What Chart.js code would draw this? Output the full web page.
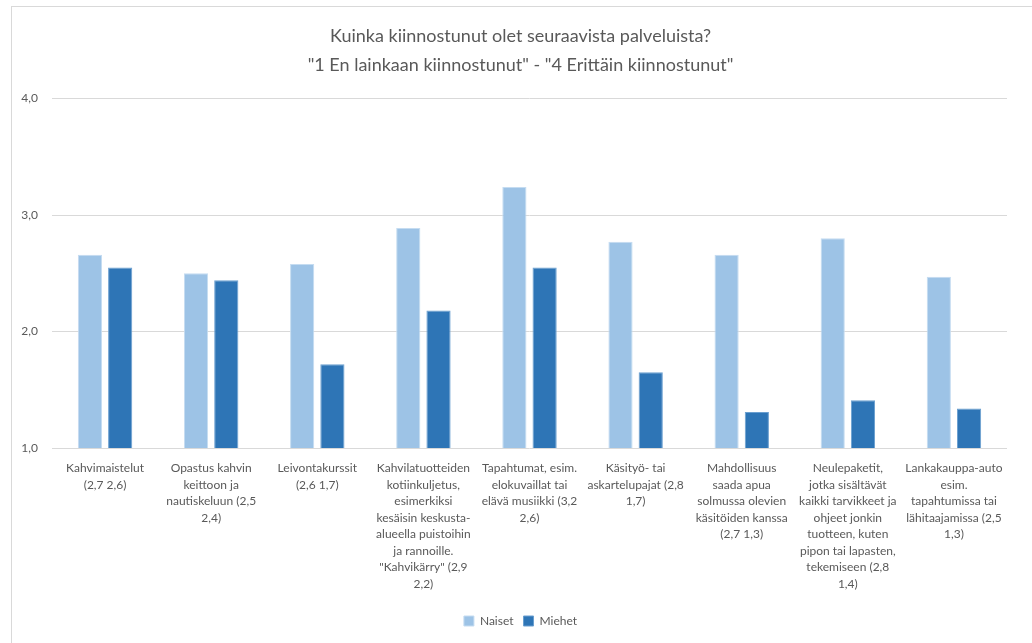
<!DOCTYPE html>
<html lang="fi">
<head>
  <meta charset="UTF-8">
  <title>Kuinka kiinnostunut olet seuraavista palveluista?</title>
  <style>
    html, body {
      margin: 0;
      padding: 0;
      background: #fff;
      overflow: hidden;
    }
    .frame {
      position: absolute;
      left: 11px;
      top: 6px;
      width: 1040px;
      height: 660px;
      border-left: 1px solid #d9d9d9;
      border-top: 1px solid #d9d9d9;
    }
    .wrap {
      position: absolute;
      left: 0;
      top: 0;
      width: 1032px;
      height: 643px;
    }
  </style>
</head>
<body>
  <div class="frame"></div>
  <div class="wrap"><canvas id="chart" width="1032" height="643"></canvas></div>

  <script src="https://cdn.jsdelivr.net/npm/chart.js"></script>
  <script>
    const titleLines = [
      'Kuinka kiinnostunut olet seuraavista palveluista?',
      '"1 En lainkaan kiinnostunut" - "4 Erittäin kiinnostunut"'
    ];

    // category labels, already split into lines like the original
    const categories = [
      ['Kahvimaistelut', '(2,7 2,6)'],
      ['Opastus kahvin', 'keittoon ja', 'nautiskeluun (2,5', '2,4)'],
      ['Leivontakurssit', '(2,6 1,7)'],
      ['Kahvilatuotteiden', 'kotiinkuljetus,', 'esimerkiksi', 'kesäisin keskusta-', 'alueella puistoihin', 'ja rannoille.', '"Kahvikärry" (2,9', '2,2)'],
      ['Tapahtumat, esim.', 'elokuvaillat tai', 'elävä musiikki (3,2', '2,6)'],
      ['Käsityö- tai', 'askartelupajat (2,8', '1,7)'],
      ['Mahdollisuus', 'saada apua', 'solmussa olevien', 'käsitöiden kanssa', '(2,7 1,3)'],
      ['Neulepaketit,', 'jotka sisältävät', 'kaikki tarvikkeet ja', 'ohjeet jonkin', 'tuotteen, kuten', 'pipon tai lapasten,', 'tekemiseen (2,8', '1,4)'],
      ['Lankakauppa-auto', 'esim.', 'tapahtumissa tai', 'lähitaajamissa (2,5', '1,3)']
    ];

    const naiset = [2.66, 2.50, 2.58, 2.89, 3.24, 2.77, 2.66, 2.80, 2.47];
    const miehet = [2.55, 2.44, 1.72, 2.18, 2.55, 1.65, 1.31, 1.41, 1.34];

    const yTicks = [1, 2, 3, 4];

    const textColor = '#595959';
    const fontFamily = "Lato, 'Open Sans', sans-serif";

    new Chart(document.getElementById('chart'), {
      type: 'bar',
      data: {
        labels: categories,
        datasets: [
          {
            label: 'Naiset',
            data: naiset,
            backgroundColor: '#9dc3e6',
            borderColor: '#c5dcf1',
            borderWidth: 1,
            borderSkipped: 'bottom',
            categoryPercentage: 0.57,
            barPercentage: 0.8
          },
          {
            label: 'Miehet',
            data: miehet,
            backgroundColor: '#2e75b6',
            borderColor: '#6a9fd0',
            borderWidth: 1,
            borderSkipped: 'bottom',
            categoryPercentage: 0.57,
            barPercentage: 0.8
          }
        ]
      },
      options: {
        responsive: false,
        animation: false,
        layout: { padding: { left: 14, right: 5, top: 8, bottom: 6 } },
        plugins: {
          title: {
            display: true,
            text: titleLines,
            color: textColor,
            font: { family: fontFamily, size: 18, weight: 'normal', lineHeight: 1.6 },
            padding: { top: 14, bottom: 19 }
          },
          legend: {
            position: 'bottom',
            labels: {
              color: textColor,
              font: { family: fontFamily, size: 12 },
              boxWidth: 10,
              boxHeight: 10,
              padding: 10
            }
          },
          tooltip: { enabled: false }
        },
        scales: {
          x: {
            grid: { display: false, drawTicks: false },
            border: { display: false },
            ticks: {
              color: textColor,
              font: { family: fontFamily, size: 12, lineHeight: 1.375 },
              autoSkip: false,
              maxRotation: 0,
              minRotation: 0,
              padding: 12
            },
            afterFit: (scale) => { scale.height = 157; }
          },
          y: {
            min: 1,
            max: 4,
            afterBuildTicks: (scale) => { scale.ticks = yTicks.map(v => ({ value: v })); },
            grid: { color: '#d9d9d9', lineWidth: 1, drawTicks: false },
            border: { display: false },
            ticks: {
              color: textColor,
              font: { family: fontFamily, size: 12 },
              padding: 14,
              callback: (v) => v.toFixed(1).replace('.', ',')
            },
            afterFit: (scale) => { scale.width = 38; }
          },
          yRight: {
            position: 'right',
            display: true,
            grid: { display: false, drawTicks: false },
            border: { display: false },
            ticks: { display: false },
            afterFit: (scale) => { scale.width = 20; }
          }
        }
      }
    });
  </script>
</body>
</html>
